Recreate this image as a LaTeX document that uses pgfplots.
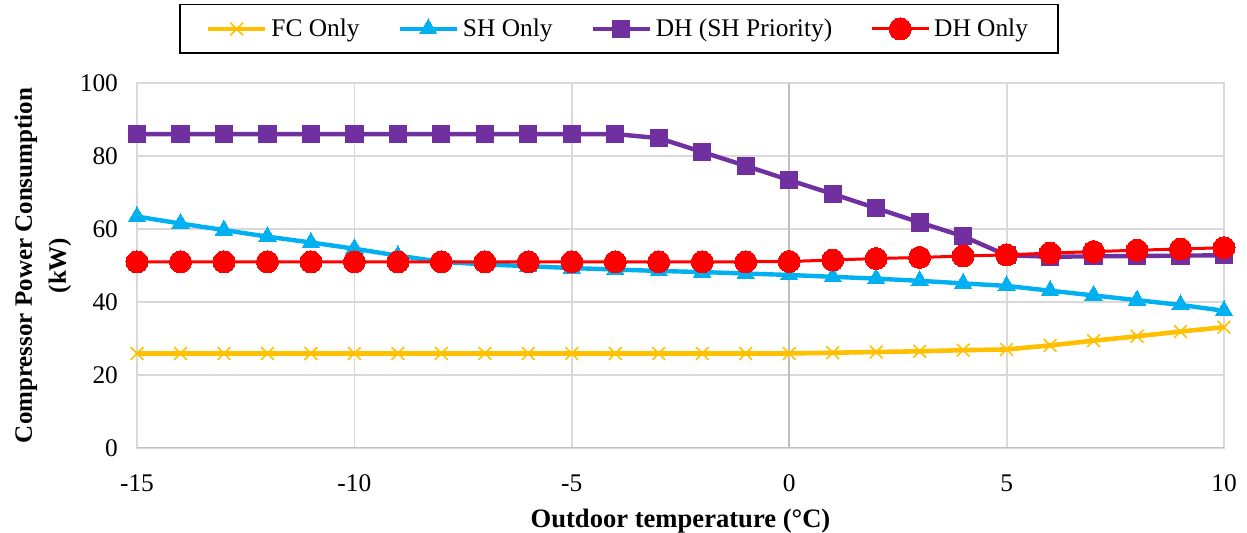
\documentclass[border=0pt]{standalone}
\usepackage{fontspec}
\setmainfont{Liberation Serif}
\usepackage{pgfplots}
\pgfplotsset{compat=1.18}
\definecolor{fcc}{HTML}{FFC000}
\definecolor{shc}{HTML}{00B0F0}
\definecolor{dhp}{HTML}{7030A0}
\definecolor{dho}{HTML}{FF0000}
\definecolor{gridc}{HTML}{D9D9D9}
\definecolor{axc}{HTML}{BFBFBF}
\begin{document}
\begin{tikzpicture}
\useasboundingbox (-68.5pt,-42.5pt) rectangle (555pt,224pt);
\begin{axis}[
  scale only axis,
  width=543.5pt, height=182.5pt,
  xmin=-15, xmax=10, ymin=0, ymax=100,
  xtick={-15,-10,-5,0,5,10},
  ytick={0,20,40,60,80,100},
  major tick length=0pt,
  grid=major,
  major grid style={draw=gridc, line width=0.9pt},
  axis line style={draw=gridc, line width=0.9pt},
  /pgf/number format/assume math mode=true,
  tick label style={font=\fontsize{12.7}{15}\selectfont},
  xticklabel style={yshift=-10pt},
  yticklabel style={xshift=-6pt},
  xlabel={\bfseries Outdoor temperature (°C)},
  xlabel style={at={(axis description cs:0.5,-0.2)}, anchor=center, font=\fontsize{13.3}{15}\selectfont},
  ylabel={\bfseries Compressor Power Consumption\\\bfseries (kW)},
  ylabel style={at={(axis description cs:-0.0865,0.5)}, anchor=center, align=center, font=\fontsize{12.5}{17}\selectfont},
  legend columns=4,
  legend style={at={(axis description cs:0.4434,1.148)}, anchor=center, draw=black, line width=0.8pt,
     font=\fontsize{12.7}{15}\selectfont, inner xsep=13pt, inner ysep=5pt,
     /tikz/every even column/.append style={column sep=17pt}},
  legend image code/.code={\draw[mark repeat=2,mark phase=2] plot coordinates {(0cm,0cm)(0.5cm,0cm)(1.0cm,0cm)};},
]
\addplot[forget plot, draw=axc, line width=0.9pt] coordinates {(0,0) (0,100)};
\addplot[forget plot, draw=axc, line width=0.9pt] coordinates {(-15,0) (10,0)};
\addplot[color=fcc, line width=2.3pt, mark=x, mark size=4.5pt, mark options={line width=0.8pt}] coordinates {
(-15,25.9)(-14,25.9)(-13,25.9)(-12,25.9)(-11,25.9)(-10,25.9)(-9,25.9)(-8,25.9)(-7,25.9)(-6,25.9)
(-5,25.9)(-4,25.9)(-3,25.9)(-2,25.9)(-1,25.9)(0,25.9)(1,26.1)(2,26.3)(3,26.5)(4,26.8)(5,27.0)
(6,28.1)(7,29.4)(8,30.6)(9,31.9)(10,33.1)};
\addlegendentry{FC Only}
\addplot[color=shc, line width=2.2pt, mark=triangle*, mark size=5pt, mark options={line width=0pt}] coordinates {
(-15,63.4)(-14,61.5)(-13,59.7)(-12,57.9)(-11,56.3)(-10,54.6)(-9,52.7)(-8,51.0)(-7,50.3)(-6,49.8)
(-5,49.3)(-4,48.9)(-3,48.5)(-2,48.2)(-1,47.8)(0,47.4)(1,46.9)(2,46.4)(3,45.8)(4,45.1)(5,44.4)
(6,43.1)(7,41.8)(8,40.5)(9,39.2)(10,37.6)};
\addlegendentry{SH Only}
\addplot[color=dhp, line width=2.2pt, mark=square*, mark size=4.3pt, mark options={line width=0pt}] coordinates {
(-15,86.0)(-14,86.0)(-13,86.0)(-12,86.0)(-11,86.0)(-10,86.0)(-9,86.0)(-8,86.0)(-7,86.0)(-6,86.0)
(-5,86.0)(-4,86.0)(-3,84.9)(-2,81.1)(-1,77.3)(0,73.4)(1,69.6)(2,65.7)(3,61.8)(4,58.0)(5,52.8)
(6,52.4)(7,52.5)(8,52.6)(9,52.7)(10,52.8)};
\addlegendentry{DH (SH Priority)}
\addplot[color=dho, line width=1.5pt, mark=*, mark size=5.5pt, mark options={line width=0pt}] coordinates {
(-15,51.0)(-14,51.0)(-13,51.0)(-12,51.0)(-11,51.0)(-10,51.0)(-9,51.0)(-8,51.0)(-7,51.0)(-6,51.0)
(-5,51.0)(-4,51.0)(-3,51.0)(-2,51.0)(-1,51.0)(0,51.1)(1,51.5)(2,51.9)(3,52.2)(4,52.6)(5,52.9)
(6,53.4)(7,53.8)(8,54.2)(9,54.5)(10,54.9)};
\addlegendentry{DH Only}
\end{axis}
\end{tikzpicture}
\end{document}
